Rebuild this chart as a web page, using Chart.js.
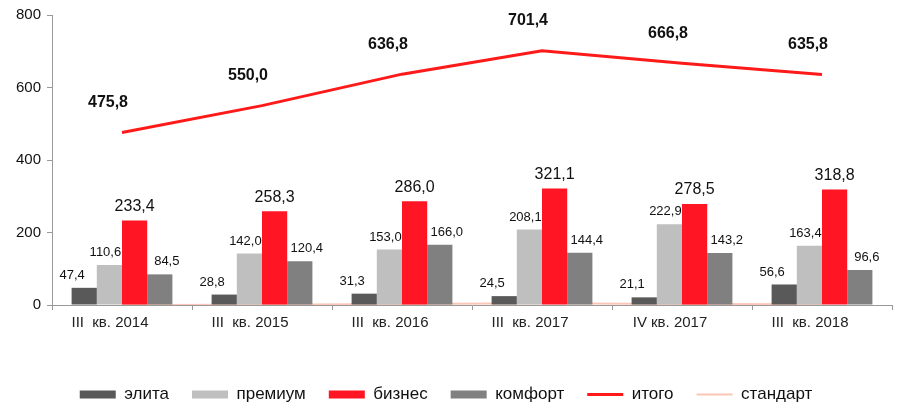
<!DOCTYPE html>
<html>
<head>
<meta charset="utf-8">
<script src="https://cdn.jsdelivr.net/npm/chart.js@4"></script>
<style>
  body { margin: 0; background: #fff; }
  #wrap { width: 900px; height: 413px; }
</style>
</head>
<body>
<div id="wrap"><canvas id="myChart"></canvas></div>
<script>
// data
const quarters = ["III  кв. 2014", "III  кв. 2015", "III  кв. 2016", "III  кв. 2017", "IV кв. 2017", "III  кв. 2018"];
const elita    = [47.4, 28.8, 31.3, 24.5, 21.1, 56.6];
const premium  = [110.6, 142.0, 153.0, 208.1, 222.9, 163.4];
const biznes   = [233.4, 258.3, 286.0, 321.1, 278.5, 318.8];
const komfort  = [84.5, 120.4, 166.0, 144.4, 143.2, 96.6];
const itogo    = [475.8, 550.0, 636.8, 701.4, 666.8, 635.8];
const standart = [0, 1, 3, 5, 3, 2];
const yTicks   = [0, 200, 400, 600, 800];

const fmt = v => v.toFixed(1).replace(".", ",");

// labels over bars and over the total line
const labelPlugin = {
  id: "valueLabels",
  afterDatasetsDraw(chart) {
    const ctx = chart.ctx;
    ctx.save();
    ctx.fillStyle = "#111";
    ctx.textAlign = "center";
    ctx.textBaseline = "bottom";
    const shifts = [-12, -4, 0, 7];
    for (let i = 0; i < 4; i++) {
      const meta = chart.getDatasetMeta(i);
      const vals = chart.data.datasets[i].data;
      ctx.font = i == 2 ? "16px 'Liberation Sans', Arial" : "13px 'Liberation Sans', Arial";
      meta.data.forEach((bar, j) => {
        ctx.fillText(fmt(vals[j]), bar.x + shifts[i], bar.y - 6);
      });
    }
    const lineMeta = chart.getDatasetMeta(4);
    ctx.font = "bold 16px 'Liberation Sans', Arial";
    lineMeta.data.forEach((pt, j) => {
      ctx.fillText(fmt(itogo[j]), pt.x - 14, pt.y - 22);
    });
    ctx.restore();
  }
};

const ctx = document.getElementById("myChart").getContext("2d");
const myChart = new Chart(ctx, {
  type: "bar",
  data: {
    labels: quarters,
    datasets: [
      { label: "элита",   data: elita,   backgroundColor: "#595959", pointStyle: "rect" },
      { label: "премиум", data: premium, backgroundColor: "#bfbfbf", pointStyle: "rect" },
      { label: "бизнес",  data: biznes,  backgroundColor: "#ff1524", pointStyle: "rect" },
      { label: "комфорт", data: komfort, backgroundColor: "#808080", pointStyle: "rect" },
      { label: "итого", type: "line", data: itogo, borderColor: "#ff1a1a", backgroundColor: "#ff1a1a",
        borderWidth: 3, pointRadius: 0, pointStyle: "line", tension: 0 },
      { label: "стандарт", type: "line", data: standart, borderColor: "#fbc6b6", backgroundColor: "#fbc6b6",
        borderWidth: 2, pointRadius: 0, pointStyle: "line", tension: 0 }
    ]
  },
  options: {
    responsive: true,
    maintainAspectRatio: false,
    animation: false,
    layout: { padding: { top: 1, right: 8, left: 0, bottom: 0 } },
    datasets: { bar: { categoryPercentage: 0.72, barPercentage: 1, borderWidth: 0 } },
    scales: {
      x: {
        afterFit: s => { s.height += 27; },
        grid: { display: true, drawOnChartArea: false, offset: true, color: "#999", tickLength: 5 },
        border: { color: "#999", width: 1 },
        ticks: { color: "#222", font: { size: 15, family: "'Liberation Sans', Arial" }, padding: 4, labelOffset: -12 }
      },
      y: {
        min: 0, max: 800,
        afterBuildTicks: s => { s.ticks = yTicks.map(v => ({ value: v })); },
        afterFit: s => { s.width = 52; },
        grid: { display: true, drawOnChartArea: false, color: "#999", tickLength: 5 },
        border: { color: "#999", width: 1 },
        ticks: { color: "#111", font: { size: 15, family: "'Liberation Sans', Arial" }, padding: 6 }
      }
    },
    plugins: {
      legend: {
        position: "bottom",
        labels: {
          usePointStyle: true,
          pointStyleWidth: 36,
          boxHeight: 8,
          padding: 23,
          color: "#111",
          font: { size: 17, family: "'Liberation Sans', Arial" }
        }
      },
      tooltip: { enabled: false }
    }
  },
  plugins: [labelPlugin]
});
</script>
</body>
</html>
